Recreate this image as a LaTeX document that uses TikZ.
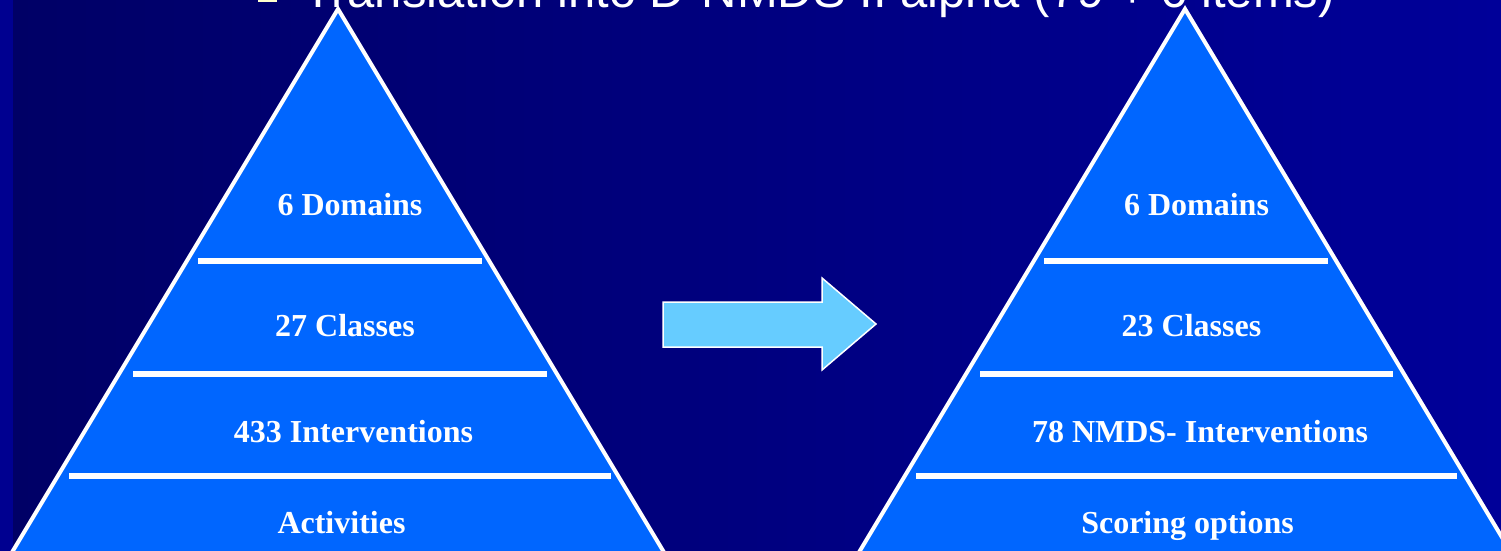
\documentclass[tikz,border=0pt]{standalone}
\usepackage{fontspec}
\setmainfont{Liberation Serif}
\newfontfamily\arialfont{Liberation Sans}
\definecolor{bgL}{HTML}{000066}
\definecolor{bgR}{HTML}{000099}
\definecolor{stripc}{HTML}{000090}
\definecolor{pyr}{HTML}{0066FF}
\definecolor{arrowfill}{HTML}{66CCFF}
\definecolor{bulletc}{HTML}{FFFFCC}
\tikzset{
  pyramid/.style={fill=pyr, draw=white, line width=4pt, line join=miter},
  levelbar/.style={draw=white, line width=5.5pt},
  lbl/.style={anchor=base, inner sep=0pt, text=white, font=\bfseries\fontsize{32}{38}\selectfont},
  bigarrow/.style={fill=arrowfill, draw=white, line width=1.5pt, line join=miter},
  title/.style={anchor=base west, inner sep=0pt, text=white, font=\arialfont\fontsize{49}{57}\selectfont}
}
\begin{document}
\begin{tikzpicture}[x=1pt,y=-1pt]
\useasboundingbox (0,0) rectangle (1501,551);
\clip (0,0) rectangle (1501,551);
% background
\fill[stripc] (0,0) rectangle (13,551);
\shade[left color=bgL, right color=bgR] (13,0) rectangle (1501,551);
% left pyramid
\draw[pyramid] (338,9) coordinate (LA) -- (692.6,600) coordinate (LR) -- (-16.6,600) coordinate (LL) -- cycle;
\coordinate (lb1a) at (198,261); \coordinate (lb1b) at (482,261);
\coordinate (lb2a) at (133,374); \coordinate (lb2b) at (547,374);
\coordinate (lb3a) at (69,476);  \coordinate (lb3b) at (611,476);
\draw[levelbar] (lb1a) -- (lb1b);
\draw[levelbar] (lb2a) -- (lb2b);
\draw[levelbar] (lb3a) -- (lb3b);
\node[lbl] (l1) at (350,215) {6 Domains};
\node[lbl] (l2) at (345,336) {27 Classes};
\node[lbl] (l3) at (353.5,442) {433 Interventions};
\node[lbl] (l4) at (341.5,533) {Activities};
% right pyramid
\draw[pyramid] (1185,9) coordinate (RA) -- (1539.6,600) coordinate (RR) -- (830.4,600) coordinate (RL) -- cycle;
\coordinate (rb1a) at (1044,261); \coordinate (rb1b) at (1328,261);
\coordinate (rb2a) at (980,374);  \coordinate (rb2b) at (1393,374);
\coordinate (rb3a) at (916,476);  \coordinate (rb3b) at (1457,476);
\draw[levelbar] (rb1a) -- (rb1b);
\draw[levelbar] (rb2a) -- (rb2b);
\draw[levelbar] (rb3a) -- (rb3b);
\node[lbl] (r1) at (1196.5,215) {6 Domains};
\node[lbl] (r2) at (1191.5,336) {23 Classes};
\node[lbl] (r3) at (1200,442) {78 NMDS- Interventions};
\node[lbl] (r4) at (1187.5,533) {Scoring options};
% arrow
\draw[bigarrow] (663,302) -- (822,302) -- (822,278) -- (876,324) -- (822,370) -- (822,347) -- (663,347) -- cycle;
% title (cut off at top, as in the reference)
\node[fill=bulletc, minimum size=19pt, inner sep=0pt] (bul) at (267.5,-7) {};
\node[title] (ttl) at (303,8) {Translation into D-NMDS II alpha (79 + 6 items)};
\end{tikzpicture}
\end{document}
